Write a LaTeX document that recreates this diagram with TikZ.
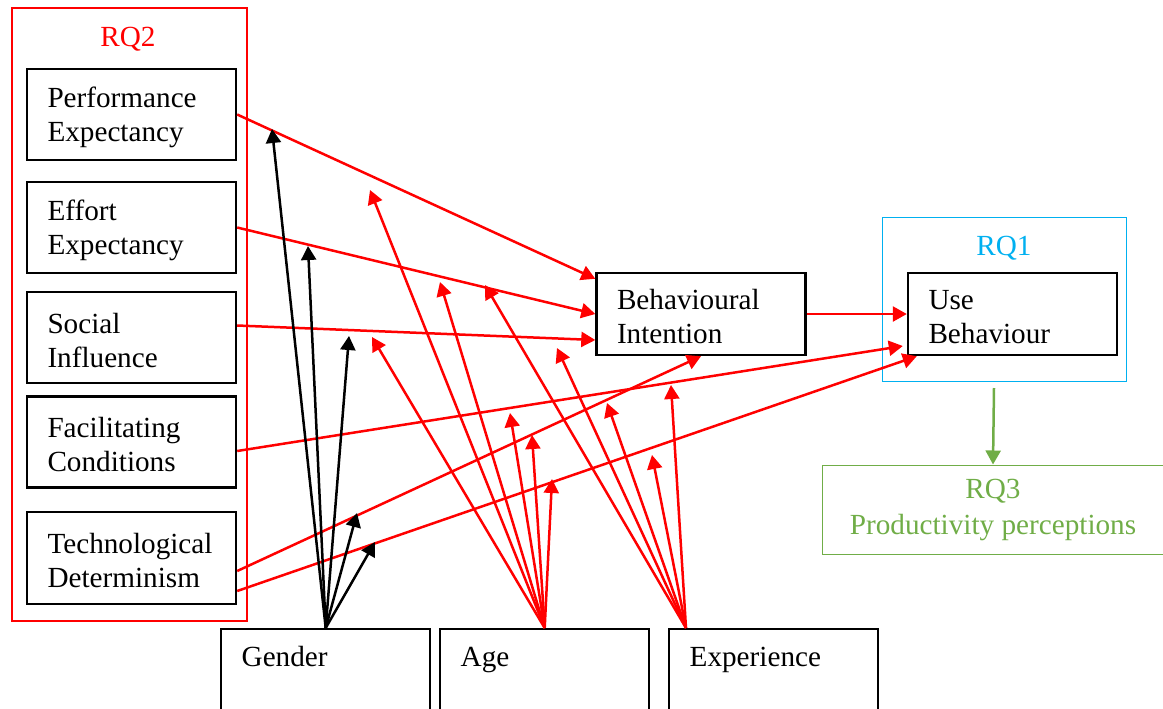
\documentclass[tikz,border=0pt]{standalone}
\usepackage{fontspec}
\setmainfont{Liberation Serif}
\usetikzlibrary{arrows.meta}
\definecolor{rqred}{RGB}{255,0,0}
\definecolor{rqcyan}{RGB}{0,176,240}
\definecolor{rqgreen}{RGB}{112,173,71}
\hyphenpenalty=10000
\exhyphenpenalty=10000
\begin{document}
\begin{tikzpicture}[x=0.5pt,y=-0.5pt,
  every node/.style={font=\fontsize{14.6}{17}\selectfont},
  box/.style={draw=black, line width=1.2pt, align=left, inner xsep=10.25pt, inner ysep=0pt, text width=84pt, minimum height=45.5pt, execute at begin node={\rule{0pt}{13pt}}},
  modbox/.style={draw=black, line width=1.2pt, align=left, anchor=north west, inner xsep=10.25pt, inner ysep=0pt, text width=84pt, text height=18.5pt, text depth=37.5pt},
  redarr/.style={draw=rqred, line width=1.25pt, -{Triangle[length=7pt,width=7.5pt]}},
  blkarr/.style={draw=black, line width=1.25pt, -{Triangle[length=7pt,width=7.5pt]}},
  grnarr/.style={draw=rqgreen, line width=1.25pt, -{Triangle[length=7pt,width=7.5pt]}},
]
\useasboundingbox (0,0) rectangle (1163,708);
\clip (0,0) rectangle (1163,708);

% containers
\node[draw=rqred, line width=1.1pt, minimum width=117.5pt, minimum height=306.5pt, inner sep=0pt, anchor=north west] (rq2box) at (11,7) {};
\node[text=rqred, anchor=base] (rq2) at (128,46) {RQ2};
\node[draw=rqcyan, line width=0.5pt, minimum width=122pt, minimum height=82pt, inner sep=0pt, anchor=north west] (rq1box) at (882,217) {};
\node[text=rqcyan, anchor=base] (rq1) at (1004,255) {RQ1};
\node[draw=rqgreen, line width=0.5pt, minimum width=171pt, minimum height=44.5pt, inner sep=0pt, align=center, text=rqgreen, font=\fontsize{14.6}{18}\selectfont] (rq3) at (993,509.5) {RQ3\\Productivity perceptions};

% constructs
\node[box] (pe) at (131.5,114.5) {Performance\\Expectancy};
\node[box] (ee) at (131.5,227.5) {Effort\\Expectancy};
\node[box] (si) at (131.5,337.5) {Social\\Influence};
\node[box] (fc) at (131.5,442) {Facilitating\\Conditions};
\node[box, minimum height=46pt] (td) at (131.5,558) {Technological\\Determinism};
\node[box, minimum height=41pt] (bi) at (701,314) {Behavioural\\Intention};
\node[box, minimum height=41pt] (ub) at (1012.5,314) {Use\\Behaviour};

% moderators
\node[modbox] (gender) at (220,628) {Gender};
\node[modbox] (age) at (439,628) {Age};
\node[modbox] (ex) at (668,628) {Experience};

% main paths
\draw[redarr] (pe.east) -- ([yshift=-3.5pt]bi.north west);
\draw[redarr] (ee.east) -- (bi.west);
\draw[redarr] ([yshift=6pt]si.east) -- ([yshift=-13pt]bi.west);
\draw[redarr] ([yshift=-4.5pt]fc.east) -- ([xshift=-2pt,yshift=-16pt]ub.west);
\draw[redarr] ([yshift=-6.5pt]td.east) -- (bi.south);
\draw[redarr] ([yshift=-16.5pt]td.east) -- ([xshift=5pt]ub.south west);
\draw[redarr] (bi.east) -- (ub.west);

% RQ3
\coordinate (g0) at (994,388);
\draw[grnarr] (g0) -- (rq3.north);

% moderator tips
\coordinate (g1) at (272,129);
\coordinate (g2) at (308,246);
\coordinate (g3) at (349,336);
\coordinate (g4) at (357,513);
\coordinate (g5) at (375,542);
\coordinate (a1) at (370,190);
\coordinate (a2) at (440,282);
\coordinate (a3) at (372,337);
\coordinate (a4) at (510,413);
\coordinate (a5) at (532,435);
\coordinate (a6) at (552,479);
\coordinate (e1) at (485,285);
\coordinate (e2) at (557,348);
\coordinate (e3) at (607,403);
\coordinate (e4) at (652,455);
\coordinate (e5) at (671,385);
\coordinate (exo) at ([xshift=9pt]ex.north west);

\foreach \t in {g1,g2,g3,g4,g5} \draw[blkarr] (gender.north) -- (\t);
\foreach \t in {a1,a2,a3,a4,a5,a6} \draw[redarr] (age.north) -- (\t);
\foreach \t in {e1,e2,e3,e4,e5} \draw[redarr] (exo) -- (\t);
\end{tikzpicture}
\end{document}
